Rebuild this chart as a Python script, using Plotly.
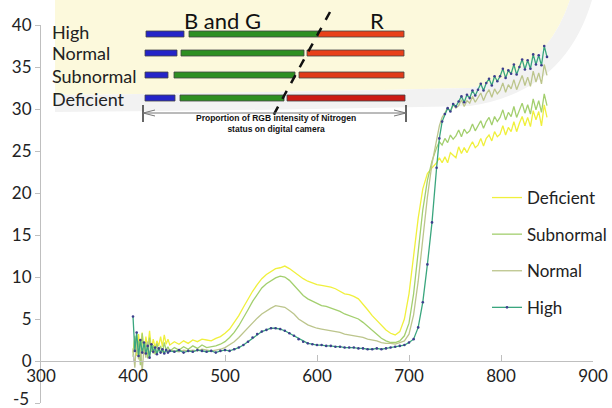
import plotly.graph_objects as go

# ---------------- data ----------------
wl_low = list(range(400, 441, 2))     # 400..440, 21 points (noisy start)
wl_mid = list(range(445, 726, 5))     # 445..725, 57 points
wl_nir = list(range(730, 851, 3))     # 730..850, 41 points
wavelength = wl_low + wl_mid + wl_nir

deficient = [
    # 400-440
    1.0, 2.8, 0.6, 3.2, 1.2, 3.4, 0.8, 2.9, 1.5, 3.6, 1.4,
    2.6, 1.6, 2.4, 1.8, 2.9, 1.7, 3.1, 2.0, 2.6, 1.9,
    # 445-725
    2.3, 2.0, 2.4, 2.1, 2.5, 2.3, 2.6, 2.5, 2.4, 2.7,
    2.9, 3.3, 3.8, 4.6, 5.4, 6.4, 7.4, 8.3, 9.1, 9.8,
    10.3, 10.7, 11.0, 11.1, 11.3, 11.0, 10.6, 10.1, 9.8, 9.5,
    9.3, 9.1, 9.0, 8.9, 8.8, 8.6, 8.3, 8.0, 7.9, 7.7,
    7.4, 6.8, 6.1, 5.4, 4.8, 4.2, 3.7, 3.3, 3.1, 3.5,
    5.0, 8.0, 12.5, 17.0, 20.5, 22.3, 23.0,
    # 730-850
    23.6, 24.2, 23.6, 24.3, 23.6, 24.8, 24.5, 24.2, 25.5, 24.7,
    25.4, 24.8, 25.5, 26.1, 25.4, 25.7, 26.5, 25.6, 26.5, 26.9,
    26.2, 27.3, 26.7, 27.0, 28.0, 26.9, 27.8, 27.3, 28.5, 27.3,
    28.3, 29.1, 28.0, 29.0, 27.9, 29.8, 28.7, 29.7, 28.0, 30.5,
    29.0,
]
subnormal = [
    0.5, 3.0, 1.0, 2.4, -0.5, 3.3, 0.9, 2.2, 0.3, 2.8, 1.1,
    1.9, 0.8, 2.1, 1.2, 1.8, 1.0, 2.2, 1.3, 1.7, 1.2,
    1.6, 1.3, 1.7, 1.4, 1.8, 1.5, 1.9, 1.6, 1.7, 1.8,
    2.0, 2.3, 2.8, 3.4, 4.2, 5.1, 6.1, 7.1, 7.9, 8.7,
    9.2, 9.6, 9.9, 10.1, 10.0, 9.6, 9.0, 8.3, 7.8, 7.4,
    7.1, 6.9, 6.6, 6.5, 6.3, 6.1, 5.9, 5.6, 5.4, 5.2,
    5.0, 4.6, 4.1, 3.6, 3.1, 2.7, 2.4, 2.2, 2.2, 2.4,
    3.0, 4.5, 8.0, 13.0, 18.0, 21.5, 23.8,
    25.4, 26.1, 25.7, 26.5, 26.0, 26.9, 26.4, 26.8, 27.5, 26.7,
    27.6, 27.1, 27.4, 28.2, 27.4, 28.0, 28.6, 27.7, 28.5, 29.0,
    28.1, 29.1, 28.5, 29.0, 29.9, 28.7, 29.6, 29.1, 30.3, 29.0,
    29.8, 30.7, 29.5, 30.5, 29.4, 31.2, 29.9, 31.0, 29.6, 31.8,
    30.4,
]
normal = [
    1.5, -0.8, 2.6, 0.2, 2.0, -1.3, 1.8, 0.4, 2.3, 0.7, 1.6,
    0.9, 1.4, 1.0, 1.6, 1.1, 1.3, 1.0, 1.4, 1.2, 1.3,
    1.2, 1.1, 1.3, 1.2, 1.3, 1.2, 1.4, 1.3, 1.2, 1.3,
    1.4, 1.6, 1.9, 2.3, 2.8, 3.4, 4.0, 4.6, 5.1, 5.6,
    6.0, 6.3, 6.6, 6.5, 6.4, 6.0, 5.6, 5.0, 4.6, 4.3,
    4.1, 3.9, 3.8, 3.7, 3.6, 3.5, 3.4, 3.2, 3.1, 3.0,
    2.9, 2.8, 2.6, 2.5, 2.4, 2.2, 2.1, 2.1, 2.0, 2.2,
    2.4, 3.2, 5.5, 9.5, 14.5, 19.5, 23.5,
    26.5, 28.0, 29.0, 29.5, 30.2, 29.7, 30.5, 30.1, 30.4, 31.1,
    30.3, 31.0, 30.7, 31.5, 30.8, 31.3, 31.9, 31.0, 31.8, 32.3,
    31.4, 32.4, 31.8, 32.2, 33.1, 32.0, 32.9, 32.4, 33.5, 32.3,
    33.1, 34.0, 32.8, 33.8, 32.7, 34.5, 33.2, 34.3, 33.0, 35.3,
    34.0,
]
high = [
    5.3, 1.2, 3.4, 0.6, 2.5, 1.0, 2.2, 0.9, 1.8, 0.4, 2.0,
    1.1, 1.6, 0.8, 1.5, 1.0, 1.4, 0.9, 1.3, 1.0, 1.2,
    1.1, 1.3, 1.0, 1.2, 1.1, 1.3, 1.2, 1.1, 1.2, 1.0,
    1.2, 1.3, 1.2, 1.4, 1.6, 1.9, 2.3, 2.8, 3.2, 3.5,
    3.7, 3.9, 3.9, 3.8, 3.6, 3.3, 3.0, 2.6, 2.3, 2.1,
    2.0, 1.9, 1.9, 1.8, 1.8, 1.7, 1.7, 1.6, 1.6, 1.6,
    1.5, 1.5, 1.4, 1.4, 1.5, 1.4, 1.5, 1.6, 1.7, 1.8,
    1.9, 2.2, 2.6, 4.0, 7.0, 11.5, 16.5,
    23.0, 26.5, 28.5, 29.4, 30.1, 29.7, 30.6, 30.3, 30.9, 31.5,
    30.8, 31.7, 31.3, 32.2, 31.6, 32.3, 33.0, 32.2, 33.1, 33.6,
    32.8, 33.9, 33.3, 33.9, 34.8, 33.7, 34.6, 34.2, 35.3, 34.1,
    35.0, 35.9, 34.7, 35.8, 34.8, 36.5, 35.3, 36.4, 35.2, 37.5,
    36.2,
]

series_names = ["Deficient", "Subnormal", "Normal", "High"]
series_values = [deficient, subnormal, normal, high]
series_colors = ["#f0f03c", "#a3cf6e", "#bcc58c", "#3aa67e"]

x_ticks = [300, 400, 500, 600, 700, 800, 900]
y_ticks = [-5, 0, 5, 10, 15, 20, 25, 30, 35, 40]
# the lowest label sits at the page edge; it is drawn as an annotation a bit higher
y_ticktext = ["", "0", "5", "10", "15", "20", "25", "30", "35", "40"]

inset_rows = ["High", "Normal", "Subnormal", "Deficient"]

FONT = "Lato"

# ---------------- helpers: pixel -> paper ----------------
W, H = 612, 408
L, R, T, B = 41, 593, 25, 403


def PX(x):
    return (x - L) / (R - L)


def PY(y):
    return (B - y) / (B - T)


fig = go.Figure()
for name, vals, col in zip(series_names, series_values, series_colors):
    if name == "High":
        fig.add_trace(go.Scatter(
            x=wavelength, y=vals, name=name, mode="lines+markers",
            line=dict(color=col, width=1.3),
            marker=dict(size=2.6, color="#3e3e8e"),
            legendgroup=name))
    else:
        fig.add_trace(go.Scatter(
            x=wavelength, y=vals, name=name, mode="lines",
            line=dict(color=col, width=1.3), legendgroup=name))

shapes = []

# watermark (faint background fan + grey band)
fan = "M %f,%f Q %f,%f %f,%f Q %f,%f %f,%f L %f,%f Z" % (
    PX(55), PY(95), PX(300), PY(92), PX(470), PY(88),
    PX(545), PY(75), PX(570), PY(0), PX(55), PY(0))
shapes.append(dict(type="path", xref="paper", yref="paper", path=fan,
                   fillcolor="#fcf9dc", line=dict(width=0), layer="below"))
band = "M %f,%f Q %f,%f %f,%f Q %f,%f %f,%f L %f,%f Q %f,%f %f,%f Q %f,%f %f,%f Z" % (
    PX(55), PY(95), PX(300), PY(92), PX(470), PY(88),
    PX(545), PY(75), PX(570), PY(0),
    PX(592), PY(0), PX(565), PY(92), PX(470), PY(106),
    PX(300), PY(110), PX(55), PY(112))
shapes.append(dict(type="path", xref="paper", yref="paper", path=band,
                   fillcolor="#f2f2f2", line=dict(width=0), layer="below"))

# inset bars: (y, blue x0,x1, green x0,x1, red x0,x1, red colour)
bars = [
    (34, 146, 184, 189, 318, 318, 404, "#e8401a"),
    (53, 145, 177, 181, 304, 307, 404, "#e8401a"),
    (75, 145, 168, 174, 295, 299, 404, "#e03a18"),
    (98, 145, 175, 180, 284, 287, 405, "#cc1a14"),
]
for (yy, b0, b1, g0, g1, r0, r1, rc) in bars:
    for (x0, x1, fc) in [(b0, b1, "#2424c8"), (g0, g1, "#2e8f22"), (r0, r1, rc)]:
        shapes.append(dict(type="rect", xref="paper", yref="paper",
                           x0=PX(x0), x1=PX(x1), y0=PY(yy + 3), y1=PY(yy - 3),
                           fillcolor=fc, line=dict(color="#444444", width=0.8)))

# dashed divider
shapes.append(dict(type="line", xref="paper", yref="paper",
                   x0=PX(330), y0=PY(12), x1=PX(273), y1=PY(116),
                   line=dict(color="#111111", width=2.5, dash="dash")))
# double arrow
shapes.append(dict(type="line", xref="paper", yref="paper",
                   x0=PX(143), y0=PY(113), x1=PX(406), y1=PY(113),
                   line=dict(color="#777777", width=1)))
for xe in (143, 406):
    shapes.append(dict(type="line", xref="paper", yref="paper",
                       x0=PX(xe), y0=PY(105), x1=PX(xe), y1=PY(122),
                       line=dict(color="#333333", width=1.5)))
for (xa, xb) in ((143, 155), (406, 394)):
    for dy in (-3, 3):
        shapes.append(dict(type="line", xref="paper", yref="paper",
                           x0=PX(xa), y0=PY(113), x1=PX(xb), y1=PY(113 + dy),
                           line=dict(color="#777777", width=1)))

annotations = []
row_y = [32, 53, 76, 99]
for lab, yy in zip(inset_rows, row_y):
    annotations.append(dict(text=lab, xref="paper", yref="paper", x=PX(50), y=PY(yy),
                            xanchor="left", yanchor="middle", showarrow=False,
                            font=dict(family=FONT, size=18, color="#222222")))
annotations.append(dict(text="B and G", xref="paper", yref="paper", x=PX(222), y=PY(21),
                        xanchor="center", yanchor="middle", showarrow=False,
                        font=dict(family=FONT, size=22, color="#111111")))
annotations.append(dict(text="R", xref="paper", yref="paper", x=PX(377), y=PY(21),
                        xanchor="center", yanchor="middle", showarrow=False,
                        font=dict(family=FONT, size=22, color="#111111")))
annotations.append(dict(text="<b>Proportion of RGB intensity of Nitrogen<br>status on digital camera</b>",
                        xref="paper", yref="paper", x=PX(276), y=PY(124),
                        xanchor="center", yanchor="middle", showarrow=False,
                        font=dict(family="Liberation Sans", size=8.5, color="#111111")))
# lowest y label (-5)
annotations.append(dict(text="-5", xref="paper", yref="paper", x=PX(31), y=PY(398),
                        xanchor="right", yanchor="middle", showarrow=False,
                        font=dict(family=FONT, size=17, color="#222222")))

fig.update_layout(
    width=W, height=H,
    margin=dict(l=L, r=W - R, t=T, b=H - B, autoexpand=False),
    paper_bgcolor="white", plot_bgcolor="rgba(0,0,0,0)",
    showlegend=True,
    legend=dict(x=PX(487), y=PY(180), xanchor="left", yanchor="top",
                font=dict(family=FONT, size=17, color="#222222"),
                bgcolor="rgba(0,0,0,0)", tracegroupgap=11.5, itemwidth=30),
    shapes=shapes, annotations=annotations,
    xaxis=dict(range=[300, 900], tickvals=x_ticks, anchor="free", position=5 / 45,
               automargin=False, ticklabeloverflow="allow",
               showline=True, linecolor="#bfbfbf", linewidth=1,
               ticks="inside", ticklen=6, tickcolor="#bfbfbf",
               showgrid=False, zeroline=False,
               tickfont=dict(family=FONT, size=17, color="#222222")),
    yaxis=dict(range=[-5, 40], tickvals=y_ticks, ticktext=y_ticktext, automargin=False,
               ticklabeloverflow="allow",
               showline=True, linecolor="#bfbfbf", linewidth=1,
               ticks="outside", ticklen=5, tickcolor="#bfbfbf",
               showgrid=False, zeroline=False,
               tickfont=dict(family=FONT, size=17, color="#222222")),
)

# the figure fills the whole 612x408 window (no page margin / scrollbars)
fig.write_html("out.html",
               config={"displayModeBar": False},
               post_script="document.body.style.margin='0';"
                           "document.body.style.overflow='hidden';")
